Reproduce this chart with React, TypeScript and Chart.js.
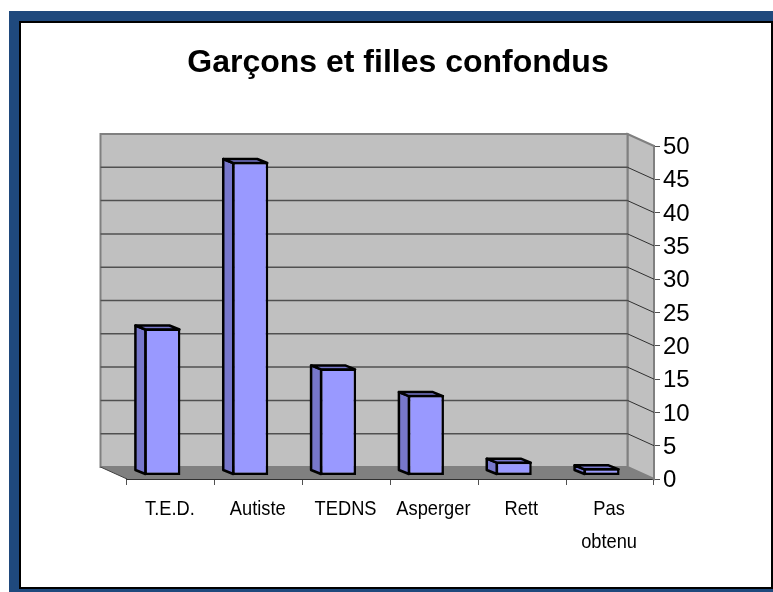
import React, { useEffect, useRef } from "react";
import { Chart, registerables } from "chart.js";

Chart.register(...registerables);

const categories: (string | string[])[] = ["T.E.D.", "Autiste", "TEDNS", "Asperger", "Rett", ["Pas", "obtenu"]];
const values = [22, 47, 16, 12, 2, 1];
const axisMax = 50;
const axisStep = 5;

const WALL_DX = 26.5;
const WALL_DY = 12;
const BAR_DX = 8.5;
const BAR_DY = 4;
const BAR_DEPTH_X = 10;
const BAR_DEPTH_Y = 4;
const LABEL_SQUEEZE = 0.87;

const scene3d = {
  id: "scene3d",
  afterLayout(chart: any) {
    // the reference's category labels are a condensed face: squeeze them sideways
    const x = chart.scales.x;
    if (x.__squeezed) return;
    x.__squeezed = true;
    const orig = x.drawLabels;
    x.drawLabels = function (area: any) {
      const ctx = chart.ctx;
      const fill = ctx.fillText;
      ctx.fillText = function (t: string, px: number, py: number) {
        ctx.save();
        ctx.translate(px, py);
        ctx.scale(LABEL_SQUEEZE, 1);
        fill.call(ctx, t, 0, 0);
        ctx.restore();
      };
      orig.call(this, area);
      delete ctx.fillText;
    };
  },
  beforeDatasetsDraw(chart: any) {
    const { ctx, chartArea: a, scales } = chart;
    const y = scales.y;
    ctx.save();
    // side wall
    ctx.fillStyle = "#C0C0C0";
    ctx.beginPath();
    ctx.moveTo(a.right - WALL_DX, a.top - WALL_DY);
    ctx.lineTo(a.right, a.top);
    ctx.lineTo(a.right, a.bottom);
    ctx.lineTo(a.right - WALL_DX, a.bottom - WALL_DY);
    ctx.closePath();
    ctx.fill();
    ctx.strokeStyle = "#808080";
    ctx.lineWidth = 2;
    ctx.stroke();
    // back wall
    ctx.fillStyle = "#C0C0C0";
    ctx.fillRect(a.left - WALL_DX, a.top - WALL_DY, a.width, a.height);
    ctx.strokeRect(a.left - WALL_DX, a.top - WALL_DY, a.width, a.height);
    // floor
    ctx.fillStyle = "#808080";
    ctx.beginPath();
    ctx.moveTo(a.left - WALL_DX, a.bottom - WALL_DY);
    ctx.lineTo(a.right - WALL_DX, a.bottom - WALL_DY);
    ctx.lineTo(a.right, a.bottom);
    ctx.lineTo(a.left, a.bottom);
    ctx.closePath();
    ctx.fill();
    // grid lines from the axis ticks
    y.ticks.forEach((t: any) => {
      const py = y.getPixelForValue(t.value);
      if (t.value > 0 && t.value < axisMax) {
        ctx.strokeStyle = "#505050";
        ctx.lineWidth = 1.5;
        ctx.beginPath();
        ctx.moveTo(a.left - WALL_DX, py - WALL_DY);
        ctx.lineTo(a.right - WALL_DX, py - WALL_DY);
        ctx.stroke();
        ctx.strokeStyle = "#303030";
        ctx.lineWidth = 1;
        ctx.beginPath();
        ctx.moveTo(a.right - WALL_DX, py - WALL_DY);
        ctx.lineTo(a.right, py);
        ctx.stroke();
      }
    });
    // left floor edge
    ctx.strokeStyle = "#404040";
    ctx.lineWidth = 1;
    ctx.beginPath();
    ctx.moveTo(a.left - WALL_DX, a.bottom - WALL_DY);
    ctx.lineTo(a.left, a.bottom);
    ctx.stroke();
    ctx.restore();

    // bars: everything shifted to mid-depth; sides first
    ctx.save();
    ctx.translate(-BAR_DX, -BAR_DY);
    const meta = chart.getDatasetMeta(0);
    meta.data.forEach((el: any) => {
      const { x, y: top, base, width } = el.getProps(["x", "y", "base", "width"], true);
      const l = x - width / 2 + 1;
      const r = x + width / 2 - 1;
      const b = base - 1;
      const tp = top + 1;
      ctx.lineWidth = 2.5;
      ctx.strokeStyle = "#000";
      ctx.lineJoin = "round";
      ctx.fillStyle = "#7777CC";
      ctx.beginPath();
      ctx.moveTo(l, tp);
      ctx.lineTo(l - BAR_DEPTH_X, tp - BAR_DEPTH_Y);
      ctx.lineTo(l - BAR_DEPTH_X, b - BAR_DEPTH_Y);
      ctx.lineTo(l, b);
      ctx.closePath();
      ctx.fill();
      ctx.stroke();
      ctx.beginPath();
      ctx.moveTo(l, tp);
      ctx.lineTo(l - BAR_DEPTH_X, tp - BAR_DEPTH_Y);
      ctx.lineTo(r - BAR_DEPTH_X, tp - BAR_DEPTH_Y);
      ctx.lineTo(r, tp);
      ctx.closePath();
      ctx.fill();
      ctx.stroke();
    });
  },
  afterDatasetsDraw(chart: any) {
    chart.ctx.restore();
  },
};

export default function App() {
  const ref = useRef<HTMLCanvasElement>(null);
  useEffect(() => {
    const chart = new Chart(ref.current as HTMLCanvasElement, {
      type: "bar",
      data: {
        labels: categories as any,
        datasets: [
          {
            data: values,
            backgroundColor: "#9999FF",
            borderColor: "#000000",
            borderWidth: 2.5,
            borderSkipped: false,
            barPercentage: 1,
            categoryPercentage: 0.41,
            clip: false as any,
          },
        ],
      },
      options: {
        animation: false,
        responsive: false,
        layout: { padding: { left: 23, right: 0, top: 0, bottom: 0 } },
        plugins: {
          legend: { display: false },
          tooltip: { enabled: false },
          title: {
            display: true,
            text: "Garçons et filles confondus",
            color: "#000000",
            font: { family: "'Liberation Sans', Arial, sans-serif", size: 32, weight: "bold", lineHeight: 1.2 },
            padding: { top: 44, bottom: 63.6 },
          },
        },
        scales: {
          spacer: {
            type: "linear",
            position: "left",
            display: true,
            grid: { display: false, drawTicks: false },
            border: { display: false },
            ticks: { display: false },
            afterFit: (s: any) => {
              s.width = 104;
            },
          },
          x: {
            grid: { drawOnChartArea: false, drawTicks: true, tickLength: 6, color: "#505050", lineWidth: 1 },
            border: { display: true, color: "#303030", width: 2 },
            ticks: {
              color: "#000000",
              maxRotation: 0,
              autoSkip: false,
              padding: 7.5,
              labelOffset: -1,
              font: { family: "'Liberation Sans', Arial, sans-serif", size: 21, lineHeight: 1.57 },
            },
            afterFit: (s: any) => {
              s.height = 113;
            },
          },
          y: {
            position: "right",
            min: 0,
            max: axisMax,
            grid: { drawOnChartArea: false, drawTicks: true, tickLength: 6, color: "#505050", lineWidth: 1 },
            border: { display: true, color: "#303030", width: 2 },
            ticks: {
              stepSize: axisStep,
              color: "#000000",
              padding: 3,
              labelOffset: 1.5,
              font: { family: "'Liberation Sans', Arial, sans-serif", size: 24 },
            },
            afterFit: (s: any) => {
              s.width = 119;
            },
          },
        },
      } as any,
      plugins: [scene3d],
    });
    return () => chart.destroy();
  }, []);
  return (
    <div style={{ position: "fixed", left: 0, top: 0, width: 773, height: 592, overflow: "hidden", background: "#FFFFFF" }}>
      <div
        style={{
          position: "absolute",
          left: 9,
          top: 11,
          width: 764,
          height: 581,
          boxSizing: "border-box",
          background: "#1F497D",
          paddingLeft: 10,
          paddingTop: 10,
          paddingBottom: 3,
        }}
      >
        <div
          style={{
            width: "100%",
            height: "100%",
            boxSizing: "border-box",
            background: "#FFFFFF",
            border: "2px solid #000",
          }}
        />
      </div>
      <canvas ref={ref} width={773} height={592} style={{ position: "absolute", left: 0, top: 0, display: "block" }} />
    </div>
  );
}
